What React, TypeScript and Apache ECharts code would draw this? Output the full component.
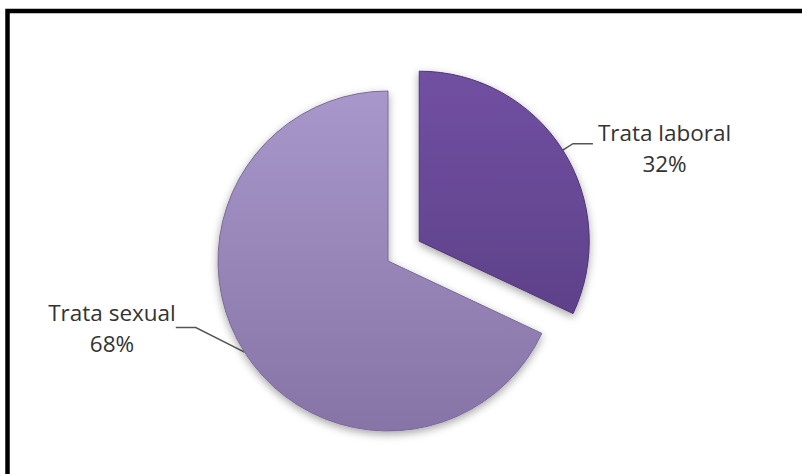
import React, { useEffect, useRef } from "react";
import * as echarts from "echarts";

const categories = ["Trata laboral", "Trata sexual"];
const values = [32, 68];

export default function App() {
  const ref = useRef<HTMLDivElement>(null);
  useEffect(() => {
    document.body.style.margin = "0";
    const chart = echarts.init(ref.current!, null, { renderer: "svg" });
    const colors = [
      new echarts.graphic.LinearGradient(0, 0, 0, 1, [
        { offset: 0, color: "#7150a2" },
        { offset: 1, color: "#5e418a" },
      ]),
      new echarts.graphic.LinearGradient(0, 0, 0, 1, [
        { offset: 0, color: "#a897ca" },
        { offset: 1, color: "#8674a6" },
      ]),
    ];
    chart.setOption({
      animation: false,
      graphic: [
        {
          type: "rect",
          shape: { x: 7.5, y: 11, width: 820, height: 500 },
          style: { fill: "none", stroke: "#000", lineWidth: 4.5 },
          silent: true,
        },
      ],
      series: [
        {
          type: "pie",
          center: [388, 261],
          radius: 170,
          startAngle: 90,
          clockwise: true,
          selectedMode: "single",
          selectedOffset: 37,
          data: categories.map((c, i) => ({
            name: c,
            value: values[i],
            selected: i === 0,
            itemStyle: {
              color: colors[i],
              borderColor: i === 0 ? "#4e3672" : "#7a6898",
              borderWidth: 1,
              shadowBlur: 8,
              shadowOffsetY: 3,
              shadowColor: "rgba(0,0,0,0.35)",
            },
          })),
          label: {
            show: true,
            position: "outside",
            alignTo: "none",
            formatter: "{t|{b}}\n{t|{d}%}",
            padding: [9, 0, 0, 0],
            rich: {
              t: {
                fontFamily: "'Open Sans', sans-serif",
                fontSize: 22.5,
                lineHeight: 31,
                color: "#333",
                align: "center",
              },
            },
          },
          labelLine: {
            show: true,
            length: 12,
            length2: 20,
            lineStyle: { color: "#555", width: 1.5 },
          },
          labelLayout: (p: any) =>
            p.dataIndex === 1
              ? { x: 112, y: 323, align: "center", verticalAlign: "middle" }
              : {},
        },
      ],
    });
    return () => chart.dispose();
  }, []);
  return (
    <div
      ref={ref}
      style={{ position: "absolute", left: 0, top: 0, width: 802, height: 474, background: "#fff" }}
    />
  );
}
